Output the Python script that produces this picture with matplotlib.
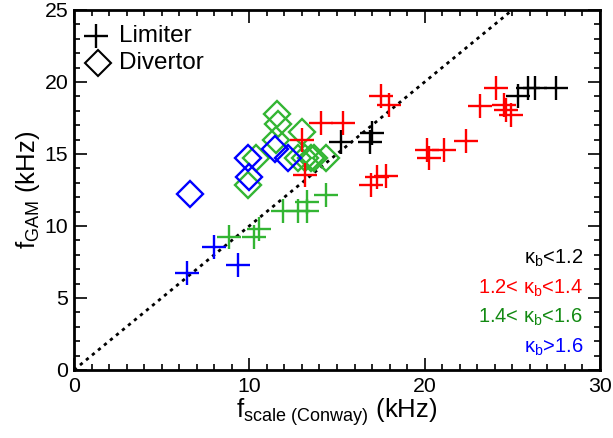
import matplotlib
matplotlib.use("Agg")
import matplotlib.pyplot as plt
from matplotlib.ticker import MultipleLocator

plt.rcParams['font.family'] = ['Liberation Sans', 'DejaVu Sans']
plt.rcParams['mathtext.fontset'] = 'custom'
plt.rcParams['mathtext.rm'] = 'Liberation Sans'
plt.rcParams['mathtext.it'] = 'Liberation Sans:italic'
plt.rcParams['mathtext.bf'] = 'Liberation Sans:bold'

# Limiter (crosses)
lim_black_x = [15.2, 17.0, 16.9, 25.3, 25.9, 26.3, 27.5]
lim_black_y = [15.85, 16.45, 15.85, 19.0, 19.55, 19.55, 19.55]

lim_red_x = [13.0, 13.2, 14.1, 15.35, 17.5, 17.95, 16.95, 17.3, 17.8,
             20.15, 20.25, 21.1, 22.35, 23.15, 24.05, 24.55, 24.65, 24.9]
lim_red_y = [15.95, 13.55, 17.15, 17.15, 19.0, 18.4, 12.85, 13.4, 13.5,
             15.3, 14.7, 15.3, 15.9, 18.35, 19.55, 18.4, 18.05, 17.7]

lim_green_x = [8.85, 10.25, 10.55, 11.9, 12.75, 13.3, 13.3, 14.35]
lim_green_y = [9.2, 9.2, 9.8, 11.05, 11.05, 11.05, 11.65, 12.15]

lim_blue_x = [6.45, 8.0, 9.35]
lim_blue_y = [6.7, 8.55, 7.3]

# Divertor (diamonds)
div_green_x = [11.6, 11.65, 11.5, 13.0, 10.4, 9.9, 12.75, 13.2, 13.5, 13.7, 14.35]
div_green_y = [17.75, 17.05, 15.95, 16.5, 14.7, 12.85, 14.7, 14.7, 14.75, 14.7, 14.7]

div_blue_x = [6.6, 9.9, 10.0, 11.45, 12.2]
div_blue_y = [12.25, 14.7, 13.4, 15.35, 14.7]

# Colours
c_black = 'black'
c_red = '#ff0000'
c_green = '#33b533'
c_blue = '#0000ff'
c_green_text = '#138a13'

legend_labels = ['Limiter', 'Divertor']
kappa_labels = ['κ$_\\mathregular{b}$<1.2', '1.2< κ$_\\mathregular{b}$<1.4',
                '1.4< κ$_\\mathregular{b}$<1.6', 'κ$_\\mathregular{b}$>1.6']
kappa_colors = [c_black, c_red, c_green_text, c_blue]

fig = plt.figure(figsize=(6.13, 4.38), dpi=100)
ax = fig.add_axes([0.1207, 0.1553, 0.8581, 0.822])

ax.plot([0, 25], [0, 25], linestyle=(0, (1.2, 1.6)), color='black', lw=2.0, zorder=1)

ms_p = 17
ms_d = 13
mew = 1.7
for xs, ys, c in [(lim_black_x, lim_black_y, c_black), (lim_red_x, lim_red_y, c_red),
                  (lim_green_x, lim_green_y, c_green), (lim_blue_x, lim_blue_y, c_blue)]:
    ax.plot(xs, ys, linestyle='none', marker='+', ms=ms_p, mew=mew, color=c, zorder=3)
for xs, ys, c in [(div_green_x, div_green_y, c_green), (div_blue_x, div_blue_y, c_blue)]:
    ax.plot(xs, ys, linestyle='none', marker='D', ms=ms_d, mew=mew, mfc='none', mec=c, zorder=2)

# legend (symbols)
ax.plot([1.25], [23.2], marker='+', ms=ms_p, mew=mew, color='black')
ax.plot([1.35], [21.35], marker='D', ms=ms_d, mew=1.5, mfc='none', mec='black')
ax.text(2.55, 23.2, legend_labels[0], fontsize=17.5, va='center', ha='left')
ax.text(2.55, 21.35, legend_labels[1], fontsize=17.5, va='center', ha='left')

for i, (lab, col) in enumerate(zip(kappa_labels, kappa_colors)):
    ax.text(29.05, 7.75 - i * 2.05, lab, color=col, fontsize=14.5, ha='right', va='center')

ax.set_xlim(0, 30)
ax.set_ylim(0, 25)
ax.xaxis.set_major_locator(MultipleLocator(10))
ax.xaxis.set_minor_locator(MultipleLocator(1))
ax.yaxis.set_major_locator(MultipleLocator(5))
ax.yaxis.set_minor_locator(MultipleLocator(1))
ax.tick_params(which='both', direction='in', top=True, right=True, width=1.2, labelsize=15.3)
ax.tick_params(which='major', length=9)
ax.tick_params(which='minor', length=4.5)
ax.tick_params(axis='x', pad=5)
ax.tick_params(axis='y', pad=4)
for s in ax.spines.values():
    s.set_linewidth(2)

ax.set_xlabel('f$_\\mathregular{scale\\ (Conway)}$ (kHz)', fontsize=18.5, labelpad=0)
ax.set_ylabel('f$_\\mathregular{GAM}$ (kHz)', fontsize=18.5, labelpad=2)

fig.savefig('out.png', dpi=100)
